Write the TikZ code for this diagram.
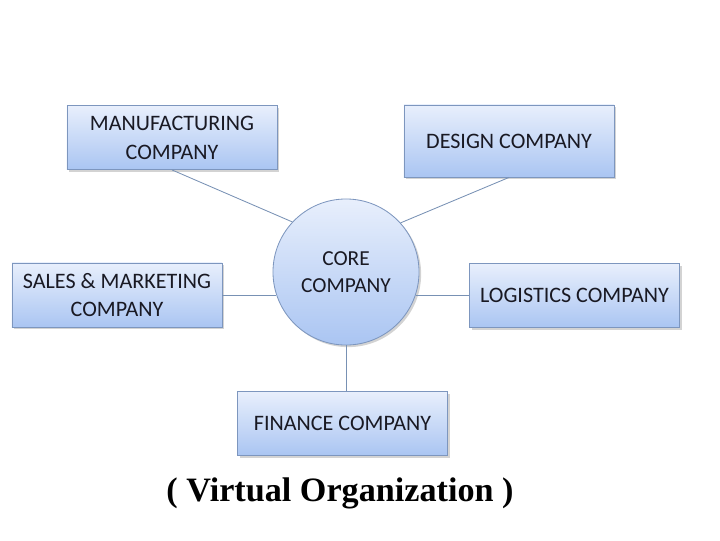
\documentclass[tikz,border=0pt]{standalone}
\usepackage{fontspec}
\setmainfont{Carlito}
\newfontfamily\captionfont{Liberation Serif}
\usepackage{tikz}
\usetikzlibrary{positioning, shadows}

\definecolor{boxtop}{RGB}{232,239,252}
\definecolor{boxbottom}{RGB}{170,197,242}
\definecolor{boxline}{RGB}{125,150,190}
\definecolor{linkline}{RGB}{120,145,180}
\definecolor{textdark}{RGB}{25,25,35}

\begin{document}
\begin{tikzpicture}[x=0.025cm, y=-0.025cm,
        company/.style={draw=boxline, line width=0.6pt, top color=boxtop, bottom color=boxbottom,
            minimum width=5.25cm, minimum height=1.6cm, align=center, text=textdark,
            font=\fontsize{15.7}{20.5}\selectfont, drop shadow={shadow xshift=1.5pt, shadow yshift=-1.5pt, opacity=0.35}},
        core/.style={circle, draw=boxline, line width=0.6pt, top color=boxtop, bottom color=boxbottom,
            minimum size=3.65cm, align=center, text=textdark,
            font=\fontsize{15.2}{19.5}\selectfont, drop shadow={shadow xshift=1.5pt, shadow yshift=-1.5pt, opacity=0.35}},
        link/.style={draw=linkline, line width=0.6pt}]
            \useasboundingbox (0, 0) rectangle (720, 540);

            \node [core] (core) at (346, 272) {CORE\\COMPANY};
            \node [company] (manu) at (172, 137.5) {MANUFACTURING\\COMPANY};
            \node [company, minimum height=1.8cm] (design) at (509, 141) {DESIGN COMPANY};
            \node [company] (sales) at (117, 295) {SALES \& MARKETING\\COMPANY};
            \node [company] (logist) at (574.5, 295.5) {LOGISTICS COMPANY};
            \node [company] (finance) at (342.5, 423.5) {FINANCE COMPANY};

            \draw [link] (manu.south) -- (core.137);
            \draw [link] (design.south) -- (core.42);
            \draw [link] (sales.east) -- (core.198 |- sales.east);
            \draw [link] (logist.west) -- (core.342 |- logist.west);
            \draw [link] (finance.north -| core.south) -- (core.south);

            \node [font=\captionfont\bfseries\fontsize{24.3}{28}\selectfont] (title) at (340, 493) {( Virtual Organization )};
        \end{tikzpicture}
\end{document}
